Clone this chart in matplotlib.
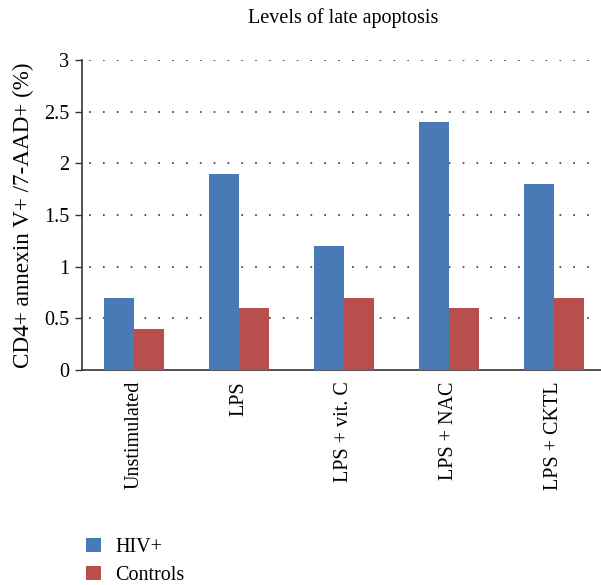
import matplotlib.pyplot as plt
import numpy as np

# data
categories = ['Unstimulated', 'LPS', 'LPS + vit. C', 'LPS + NAC', 'LPS + CKTL']
hiv = [0.7, 1.9, 1.2, 2.4, 1.8]
controls = [0.4, 0.6, 0.7, 0.6, 0.7]

plt.rcParams['font.family'] = ['Liberation Serif', 'DejaVu Serif']

fig = plt.figure(figsize=(6.01, 5.85), dpi=100)
ax = fig.add_axes([82/601, 215/585, 519/601, 310/585])

x = np.arange(len(categories))
w = 0.286
ax.bar(x - w/2, hiv, w, color='#4a7ab5', label='HIV+', zorder=3)
ax.bar(x + w/2, controls, w, color='#b84f4c', label='Controls', zorder=3)

ax.set_xlim(-0.495, 4.448)
ax.set_ylim(0, 3)
ax.set_yticks([0, 0.5, 1, 1.5, 2, 2.5, 3])
ax.set_yticklabels(['0', '0.5', '1', '1.5', '2', '2.5', '3'], fontsize=14.5)
ax.set_xticks(x)
ax.set_xticklabels(categories, rotation=90, fontsize=14.5)
ax.tick_params(axis='x', length=0, pad=8)
ax.tick_params(axis='y', length=5, width=1, direction='out', color='#333333', pad=4)

for v in [0.5, 1, 1.5, 2, 2.5, 3]:
    ax.axhline(v, color='#333333', lw=1.2, linestyle=(4, (1, 7.3)), zorder=1)

for s in ['top', 'right']:
    ax.spines[s].set_visible(False)
for s in ['left', 'bottom']:
    ax.spines[s].set_color('#333333')
    ax.spines[s].set_linewidth(1.2)

ax.set_ylabel('CD4+ annexin V+ /7-AAD+ (%)', fontsize=16.7, labelpad=7)
fig.text(343/601, 1 - 18/585, 'Levels of late apoptosis', ha='center', va='center', fontsize=14.5)

fig.legend(loc='upper left', bbox_to_anchor=(86/601, 1 - 538/585), frameon=False, fontsize=14.5,
           handlelength=0.75, handleheight=0.65, handletextpad=0.7, labelspacing=0.45,
           borderpad=0, borderaxespad=0)

fig.savefig('out.png', dpi=100)
